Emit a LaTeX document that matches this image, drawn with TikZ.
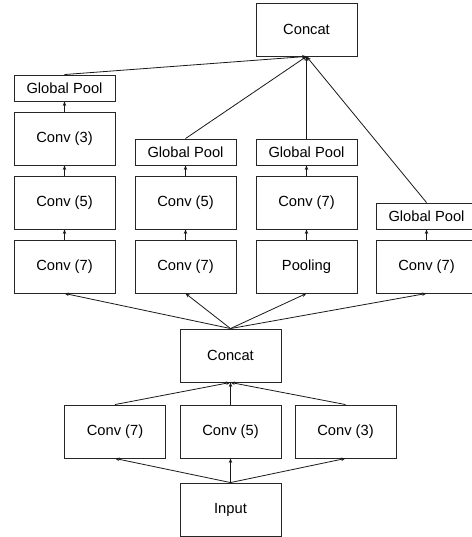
\documentclass[tikz,border=0pt]{standalone}
\usepackage{fontspec}
\setmainfont{Liberation Sans}
\usetikzlibrary{arrows.meta}
\begin{document}
\begin{tikzpicture}[x=1pt,y=-1pt,
  box/.style={draw=black!85,line width=0.9pt,minimum width=101pt,minimum height=53pt,inner sep=0pt,font=\fontsize{14.7}{16}\selectfont},
  gpbox/.style={box,minimum height=26pt},
  arr/.style={draw=black!90,line width=0.8pt,-{Stealth[length=4.5pt,width=3.5pt]}}]
\useasboundingbox (0,0) rectangle (471,537);
\node[box] (top) at (306.5,29.5) {Concat};
\node[gpbox] (gp1) at (64.5,88) {Global Pool};
\node[box] (c3a) at (64.5,138.5) {Conv (3)};
\node[box] (c5a) at (64.5,202.5) {Conv (5)};
\node[box] (c7a) at (64.5,266.5) {Conv (7)};
\node[gpbox] (gp2) at (185.5,152) {Global Pool};
\node[box] (c5b) at (185.5,202.5) {Conv (5)};
\node[box] (c7b) at (185.5,266.5) {Conv (7)};
\node[gpbox] (gp3) at (306.5,152) {Global Pool};
\node[box] (c7c) at (306.5,202.5) {Conv (7)};
\node[box] (pool) at (306.5,266.5) {Pooling};
\node[gpbox] (gp4) at (426.5,216) {Global Pool};
\node[box] (c7d) at (426.5,266.5) {Conv (7)};
\node[box] (mid) at (230.5,355.5) {Concat};
\node[box] (b7) at (115,431.5) {Conv (7)};
\node[box] (b5) at (230.5,431.5) {Conv (5)};
\node[box] (b3) at (345.5,431.5) {Conv (3)};
\node[box] (in) at (230.5,509.5) {Input};
% bottom
\foreach \n in {b7,b5,b3} \draw[arr] (in.north) -- (\n.south);
\foreach \n in {b7,b5,b3} \draw[arr] (\n.north) -- (mid.south);
\foreach \n in {c7a,c7b,pool,c7d} \draw[arr] (mid.north) -- (\n.south);
% columns
\draw[arr] (c7a) -- (c5a);
\draw[arr] (c5a) -- (c3a);
\draw[arr] (c3a) -- (gp1);
\draw[arr] (c7b) -- (c5b);
\draw[arr] (c5b) -- (gp2);
\draw[arr] (pool) -- (c7c);
\draw[arr] (c7c) -- (gp3);
\draw[arr] (c7d) -- (gp4);
% top
\foreach \n in {gp1,gp2,gp3,gp4} \draw[arr] (\n.north) -- (top.south);
\end{tikzpicture}
\end{document}
